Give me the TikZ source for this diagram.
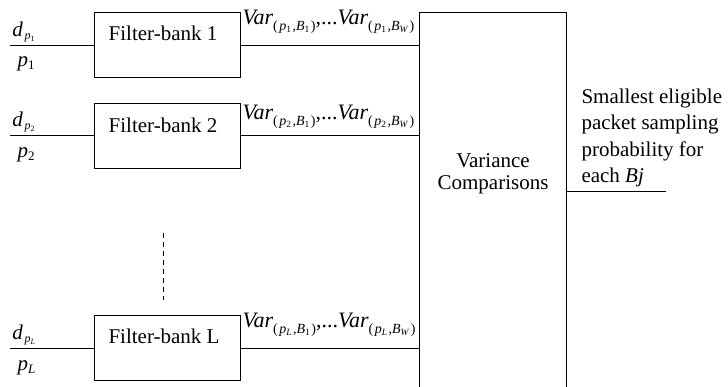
\documentclass[tikz,border=0pt]{standalone}
\usepackage{fontspec}
\setmainfont{Liberation Serif}
\newcommand{\lo}[2]{\raisebox{-#1}{#2}}
\newcommand{\subfont}{\fontsize{14}{14}\selectfont}
\newcommand{\ssfont}{\fontsize{9.5}{9.5}\selectfont}
\newcommand{\varpart}[2]{\textit{Var}\lo{6pt}{\subfont(\kern1.5pt\textit{p}\lo{2pt}{\ssfont #1}\kern1.5pt,\textit{B}\lo{2pt}{\ssfont #2}\kern1.5pt)}}
\newcommand{\varlab}[1]{\varpart{#1}{1},...\varpart{#1}{\textit{W}}}
\newcommand{\dlab}[1]{\textit{d}\kern1.5pt\lo{3pt}{\fontsize{12}{12}\selectfont\textit{p}\lo{2pt}{\fontsize{8}{8}\selectfont #1}}}
\newcommand{\plab}[1]{\textit{p}\lo{3pt}{\fontsize{13}{13}\selectfont #1}}
\begin{document}
\begin{tikzpicture}[x=1pt,y=-1pt,line width=1pt,
  font=\fontsize{21}{22}\selectfont,
  fbbox/.style={draw, minimum width=146pt, minimum height=65pt, inner sep=0pt},
  lbl/.style={inner sep=0pt, anchor=base west},
  ctr/.style={inner sep=0pt, anchor=base},
  varl/.style={inner sep=0pt, anchor=base west, font=\fontsize{22}{22}\selectfont},
  iol/.style={inner sep=0pt, anchor=base west, font=\fontsize{21}{21}\selectfont}]
\useasboundingbox (0,0) rectangle (728,387);

% filter banks
\node[fbbox] (fb1) at (167,45.5) {};
\node[ctr] (fb1t) at (163,41) {Filter-bank 1};
\node[fbbox] (fb2) at (167,136) {};
\node[ctr] (fb2t) at (163,133) {Filter-bank 2};
\node[fbbox] (fbL) at (167,348) {};
\node[ctr] (fbLt) at (164,343) {Filter-bank L};

% variance comparisons (open at the bottom)
\node[minimum width=146pt, minimum height=382pt, inner sep=0pt] (vc) at (493,204) {};
\draw (vc.south west) -- (vc.north west) -- (vc.north east) -- (vc.south east);
\node[ctr] (vct1) at (vc.center |- 0,168) {Variance};
\node[ctr] (vct2) at (vc.center |- 0,190) {Comparisons};

% inputs
\draw (fb1.west) -- ++(-84,0) coordinate (in1);
\draw (fb2.west) -- ++(-84,0) coordinate (in2);
\draw (fbL.west) -- ++(-84,0) coordinate (inL);
\node[iol] (d1) at (12,37) {\dlab{1}};
\node[iol] (p1) at (17,67) {\plab{1}};
\node[iol] (d2) at (12,127) {\dlab{2}};
\node[iol] (p2) at (17,158) {\plab{2}};
\node[iol] (dL) at (12,339) {\dlab{\textit{L}}};
\node[iol] (pL) at (17,370) {\plab{\textit{L}}};

% outputs of filter banks
\draw (fb1.east) -- (fb1.east -| vc.west);
\draw (fb2.east) -- (fb2.east -| vc.west);
\draw (fbL.east) -- (fbL.east -| vc.west);
\node[varl] (v1) at (242,25) {\varlab{1}};
\node[varl] (v2) at (242,120) {\varlab{2}};
\node[varl] (vL) at (242,327) {\varlab{\textit{L}}};

% dots between banks
\coordinate (ds) at (163,233);
\coordinate (de) at (163,300);
\draw[dashed, dash pattern=on 5pt off 4pt, line width=0.9pt] (ds) -- (de);

% final output
\coordinate (out) at (666,192);
\draw (out -| vc.east) -- (out);
\node[lbl, align=left, font=\fontsize{21}{26.5}\selectfont] (ot) at (581,183)
  {Smallest eligible\\packet sampling\\probability for\\each \textit{Bj}};
\end{tikzpicture}
\end{document}
